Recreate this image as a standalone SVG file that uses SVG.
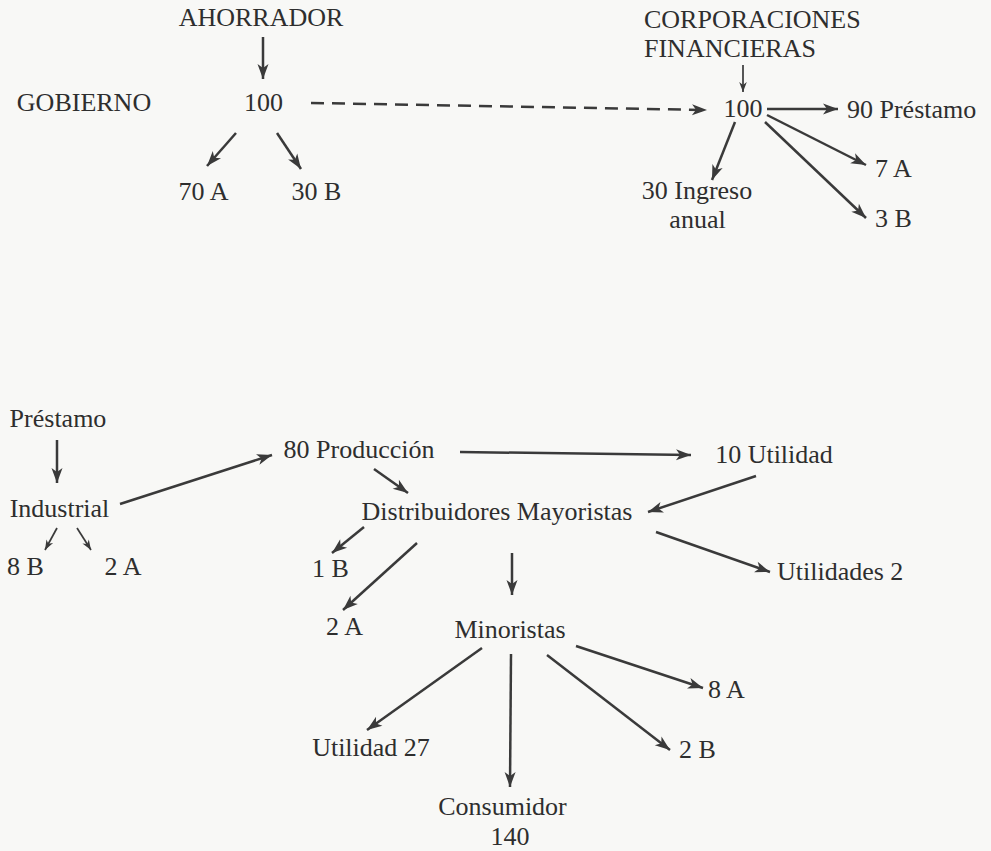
<svg xmlns="http://www.w3.org/2000/svg" width="991" height="851" viewBox="0 0 991 851">
<defs>
<style>
text{font-family:"Liberation Serif","Times New Roman",serif;font-size:26px;fill:#2e2e2e;text-anchor:middle}
text.s{text-anchor:start}
.c line{stroke:#3a3a3a;stroke-width:2.5;fill:none;marker-end:url(#ah)}
.c line.sm{stroke-width:1.7;marker-end:url(#ahs)}
.c line.d{stroke-dasharray:13 8}
</style>
<marker id="ah" markerUnits="userSpaceOnUse" markerWidth="17" markerHeight="12" refX="15" refY="5.5" orient="auto" overflow="visible">
<path d="M0,0 L15,5.5 L0,11 L4,5.5 Z" fill="#3a3a3a"/>
</marker>
<marker id="ahs" markerUnits="userSpaceOnUse" markerWidth="12" markerHeight="10" refX="10" refY="3.8" orient="auto" overflow="visible">
<path d="M0,0 L10,3.8 L0,7.6 L3,3.8 Z" fill="#3a3a3a"/>
</marker>
</defs>
<rect width="991" height="851" fill="#f8f8f6"/>
<g id="connectors" class="c">
<line x1="263" y1="37" x2="263" y2="79"/>
<line class="d" x1="311" y1="103" x2="707" y2="110"/>
<line x1="236" y1="133" x2="207" y2="166"/>
<line x1="277" y1="133" x2="301" y2="169"/>
<line class="sm" x1="743" y1="65" x2="743" y2="92"/>
<line x1="767" y1="109" x2="838" y2="109"/>
<line x1="767" y1="115" x2="866" y2="165"/>
<line x1="765" y1="122" x2="866" y2="218"/>
<line x1="735" y1="122" x2="712" y2="180"/>
<line x1="57" y1="440" x2="57" y2="483"/>
<line x1="120" y1="504" x2="272" y2="455"/>
<line class="sm" x1="57" y1="528" x2="45" y2="550"/>
<line class="sm" x1="77" y1="528" x2="91" y2="550"/>
<line x1="374" y1="469" x2="408" y2="493"/>
<line x1="460" y1="452" x2="691" y2="455"/>
<line x1="756" y1="476" x2="648" y2="512"/>
<line x1="364" y1="527" x2="332" y2="553"/>
<line x1="417" y1="543" x2="343" y2="610"/>
<line x1="656" y1="532" x2="770" y2="572"/>
<line x1="512" y1="553" x2="512" y2="595"/>
<line x1="482" y1="648" x2="367" y2="730"/>
<line x1="511" y1="654" x2="510" y2="787"/>
<line x1="547" y1="655" x2="670" y2="750"/>
<line x1="576" y1="646" x2="703" y2="688"/>
</g>
<g id="ahorrador"><text x="261" y="26">AHORRADOR</text></g>
<g id="gobierno"><text x="84" y="111">GOBIERNO</text></g>
<g id="cien1"><text x="263.5" y="111">100</text></g>
<g id="a70"><text x="203.5" y="200">70 A</text></g>
<g id="b30"><text x="316.5" y="200">30 B</text></g>
<g id="corporaciones"><text class="s" x="644" y="28">CORPORACIONES</text><text class="s" x="644" y="57">FINANCIERAS</text></g>
<g id="cien2"><text x="743" y="117">100</text></g>
<g id="prestamo90"><text class="s" x="847" y="118">90 Préstamo</text></g>
<g id="a7"><text class="s" x="875" y="177">7 A</text></g>
<g id="b3"><text class="s" x="875" y="227">3 B</text></g>
<g id="ingreso"><text x="697" y="199">30 Ingreso</text><text x="697.5" y="228">anual</text></g>
<g id="prestamo"><text x="58" y="427">Préstamo</text></g>
<g id="industrial"><text x="59.5" y="517">Industrial</text></g>
<g id="b8"><text x="25.5" y="575">8 B</text></g>
<g id="a2i"><text x="123" y="575">2 A</text></g>
<g id="produccion"><text x="359" y="458">80 Producción</text></g>
<g id="utilidad10"><text x="774" y="463">10 Utilidad</text></g>
<g id="distribuidores"><text x="497" y="520">Distribuidores Mayoristas</text></g>
<g id="b1"><text x="330.5" y="577">1 B</text></g>
<g id="a2d"><text x="344.5" y="635">2 A</text></g>
<g id="utilidades2"><text class="s" x="777" y="580">Utilidades 2</text></g>
<g id="minoristas"><text x="510" y="638">Minoristas</text></g>
<g id="a8"><text class="s" x="708" y="698">8 A</text></g>
<g id="utilidad27"><text x="371" y="756">Utilidad 27</text></g>
<g id="b2"><text x="697.5" y="758">2 B</text></g>
<g id="consumidor"><text x="502.5" y="815">Consumidor</text><text x="510" y="845">140</text></g>
</svg>
